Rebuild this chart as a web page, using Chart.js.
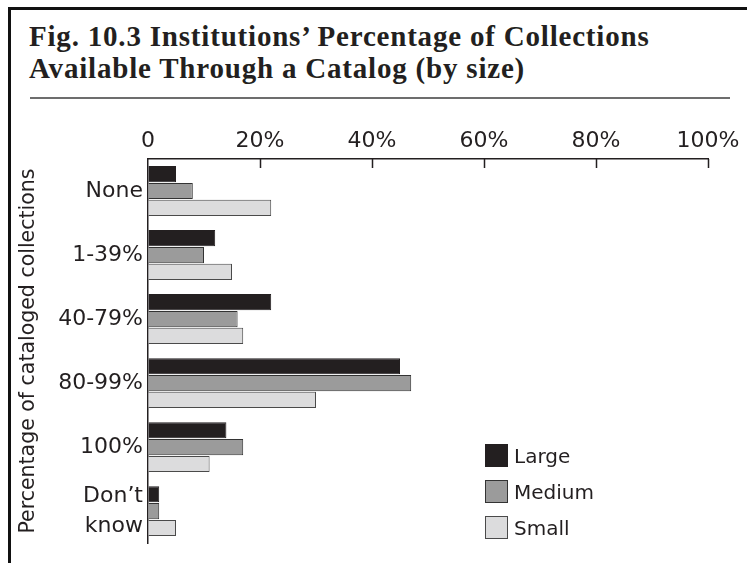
<!DOCTYPE html>
<html lang="en">
<head>
    <meta charset="UTF-8">
    <title>Fig. 10.3 Institutions’ Percentage of Collections Available Through a Catalog</title>
    <style>
        html, body {
            margin: 0;
            padding: 0;
            background: #ffffff;
        }
        .page {
            position: relative;
            width: 747px;
            height: 563px;
            overflow: hidden;
            color: #231f20;
        }
        .frame {
            position: absolute;
            left: 8px;
            top: 7px;
            width: 800px;
            height: 600px;
            border-left: 3px solid #111;
            border-top: 3px solid #111;
        }
        .title {
            position: absolute;
            left: 29px;
            top: 20px;
            font-family: "Liberation Serif", serif;
            font-weight: bold;
            font-size: 29px;
            letter-spacing: 0.8px;
            line-height: 32px;
            white-space: nowrap;
        }
        .rule {
            position: absolute;
            left: 30px;
            top: 97px;
            width: 700px;
            height: 2px;
            background: #6d6d6d;
        }
        #chart {
            position: absolute;
            left: 0;
            top: 0;
        }
        .legend {
            position: absolute;
            left: 485px;
            top: 444px;
            font-family: "DejaVu Sans", sans-serif;
            font-size: 20px;
        }
        .legend-item {
            display: flex;
            align-items: center;
            height: 23px;
            margin-bottom: 13px;
        }
        .legend-box {
            width: 21px;
            height: 21px;
            border: 1px solid #333;
            margin-right: 6px;
        }
    </style>
</head>
<body>
    <div class="page">
        <div class="frame"></div>
        <div class="title">Fig. 10.3 Institutions’ Percentage of Collections<br>Available Through a Catalog (by size)</div>
        <div class="rule"></div>
        <canvas id="chart" width="747" height="563"></canvas>
        <div class="legend" id="legend"></div>
    </div>

    <script src="https://cdn.jsdelivr.net/npm/chart.js@4.4.0/dist/chart.umd.js"></script>
    <script>
        // Data (percent of institutions)
        const categories = ['None', '1-39%', '40-79%', '80-99%', '100%', ['Don’t', 'know']];
        const seriesNames = ['Large', 'Medium', 'Small'];
        const largeValues = [5, 12, 22, 45, 14, 2];
        const mediumValues = [8, 10, 16, 47, 17, 2];
        const smallValues = [22, 15, 17, 30, 11, 5];
        const xTickValues = [0, 20, 40, 60, 80, 100];

        const fills = ['#231f20', '#9b9b9b', '#dcdcdd'];
        const borders = ['#231f20', '#333333', '#4a4a4a'];
        const ink = '#231f20';

        // tick marks point down into the plot, not up
        const innerTicks = {
            id: 'innerTicks',
            afterDraw(chart) {
                const ctx = chart.ctx;
                const x = chart.scales.x;
                const top = chart.chartArea.top;
                ctx.save();
                ctx.strokeStyle = ink;
                ctx.lineWidth = 1.5;
                ctx.beginPath();
                x.ticks.forEach((t, i) => {
                    if (i === 0) return;
                    const px = Math.round(x.getPixelForTick(i)) + 0.5;
                    ctx.moveTo(px, top);
                    ctx.lineTo(px, top + 9);
                });
                ctx.stroke();
                ctx.restore();
            }
        };

        const allValues = [largeValues, mediumValues, smallValues];
        const datasets = seriesNames.map((name, i) => ({
            label: name,
            data: allValues[i],
            backgroundColor: fills[i],
            borderColor: borders[i],
            borderWidth: 1,
            borderSkipped: 'start',
            categoryPercentage: 0.79,
            barPercentage: 0.96
        }));

        const chart = new Chart(document.getElementById('chart'), {
            type: 'bar',
            data: { labels: categories, datasets },
            options: {
                indexAxis: 'y',
                responsive: false,
                animation: false,
                events: [],
                layout: {
                    padding: { left: 0, top: 110, right: 39, bottom: 11 }
                },
                plugins: {
                    legend: { display: false },
                    tooltip: { enabled: false }
                },
                scales: {
                    x: {
                        position: 'top',
                        min: 0,
                        max: 100,
                        afterBuildTicks(scale) {
                            scale.ticks = xTickValues.map(v => ({ value: v }));
                        },
                        afterFit(scale) {
                            scale.height = 49;
                        },
                        grid: { drawOnChartArea: false, drawTicks: false },
                        border: { color: ink, width: 1.5 },
                        ticks: {
                            padding: 5,
                            color: ink,
                            maxRotation: 0,
                            font: { family: 'DejaVu Sans', size: 22 },
                            callback: v => v === 0 ? '0' : v + '%'
                        }
                    },
                    y: {
                        afterFit(scale) {
                            scale.width = 148;
                        },
                        grid: { drawOnChartArea: false, drawTicks: false },
                        border: { color: ink, width: 1.5 },
                        ticks: {
                            padding: 5,
                            color: ink,
                            font: { family: 'DejaVu Sans', size: 22, lineHeight: 1.35 }
                        },
                        title: {
                            display: true,
                            text: 'Percentage of cataloged collections',
                            color: ink,
                            padding: { top: 16, bottom: 0 },
                            font: { family: 'DejaVu Sans', size: 20.5 }
                        }
                    }
                }
            },
            plugins: [innerTicks]
        });

        // legend built from the same series
        const legend = document.getElementById('legend');
        seriesNames.forEach((name, i) => {
            const item = document.createElement('div');
            item.className = 'legend-item';
            item.innerHTML = `<span class="legend-box" style="background:${fills[i]};border-color:${borders[i]}"></span><span>${name}</span>`;
            legend.appendChild(item);
        });
    </script>
</body>
</html>
